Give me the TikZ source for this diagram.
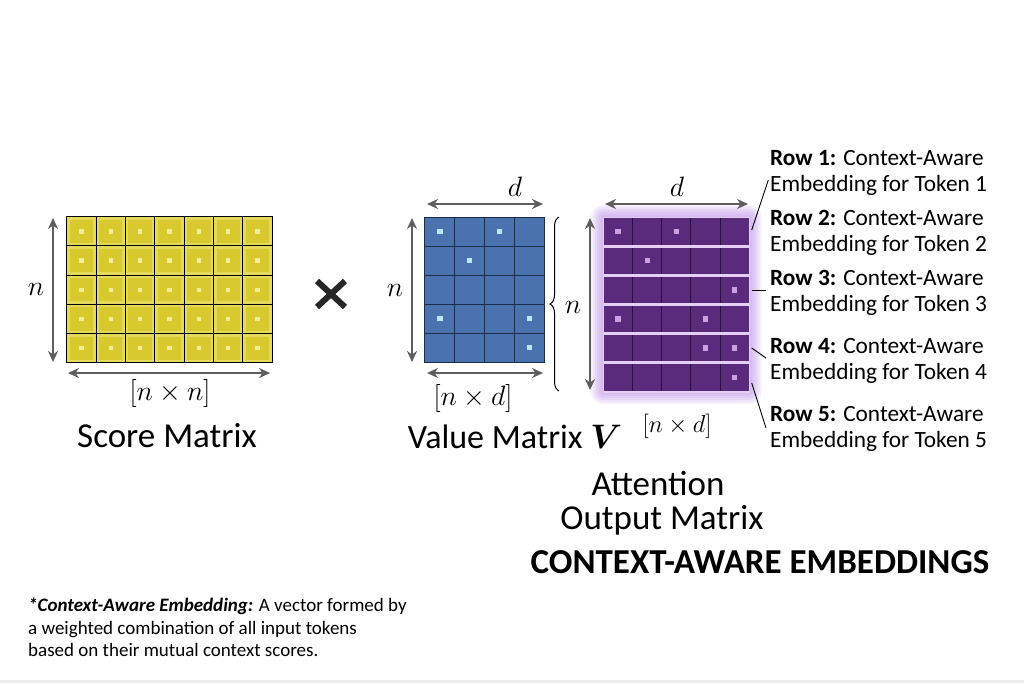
\RequirePackage{fix-cm}
\documentclass[tikz,border=0pt]{standalone}
\usepackage{fontspec}
\usepackage{bm}
\setmainfont{Carlito}
\usetikzlibrary{arrows.meta,decorations.pathreplacing,calc}
\definecolor{yelout}{HTML}{E4D95A}
\definecolor{yelin}{HTML}{D7C92E}
\definecolor{yeldot}{HTML}{F3EC98}
\definecolor{bluefill}{HTML}{4A72AE}
\definecolor{bluedot}{HTML}{BDE6F8}
\definecolor{bluegrid}{HTML}{1C2C4C}
\definecolor{purfill}{HTML}{5A2A7D}
\definecolor{purdot}{HTML}{C9A0E0}
\definecolor{purgap}{HTML}{E6CFF4}
\definecolor{purgrid}{HTML}{2A1040}
\definecolor{purglow}{HTML}{B57BE6}
\definecolor{arrowgray}{HTML}{5E5E5E}
\tikzset{
  dimarrow/.style={draw=arrowgray,line width=1.8pt,{Stealth[length=11pt,width=10pt]}-{Stealth[length=11pt,width=10pt]}},
  leader/.style={draw=black,line width=0.9pt},
  mlabel/.style={inner sep=0pt,font=\fontsize{28}{32}\selectfont},
  title/.style={inner sep=0pt,font=\fontsize{35}{40}\selectfont},
  rowlabel/.style={anchor=west,inner sep=0pt,align=left,font=\fontsize{23.3}{26}\selectfont},
  matbox/.style={inner sep=0pt,draw=none}
}
\begin{document}
\begin{tikzpicture}[x=1pt,y=-1pt]
\useasboundingbox (0,0) rectangle (1024,683);
\fill[white] (0,0) rectangle (1024,683);
\fill[black!7] (0,680) rectangle (1024,683);

% ---------- Score matrix ----------
\node[matbox,minimum width=205.6pt,minimum height=146pt] (S) at (169.5,289.7) {};
\foreach \c in {0,...,6}{
  \foreach \r in {0,...,4}{
    \pgfmathsetmacro{\xa}{66.7+29.37*\c}
    \pgfmathsetmacro{\ya}{216.7+29.2*\r}
    \fill[yelout] (\xa,\ya) rectangle ++(29.37,29.2);
    \fill[yelin] (\xa+3,\ya+3) rectangle ++(23.37,23.2);
    \fill[yeldot] (\xa+14.68-2.2,\ya+14.6-2.2) rectangle ++(4.4,4.4);
  }
}
\foreach \k in {1,...,6}{
  \draw[black,line width=1.1pt] (66.7+29.37*\k,216.7) -- (66.7+29.37*\k,362.7);
}
\foreach \k in {1,...,4}{
  \draw[black,line width=1.1pt] (66.7,216.7+29.2*\k) -- (272.3,216.7+29.2*\k);
}
\draw[black,line width=1.1pt] (S.north west) rectangle (S.south east);
\coordinate (Sn1) at (53,218); \coordinate (Sn2) at (53,362);
\draw[dimarrow] (Sn1) -- (Sn2);
\node[mlabel] (Snl) at (36,289) {$n$};
\coordinate (Sw1) at (68,373); \coordinate (Sw2) at (270,373);
\draw[dimarrow] (Sw1) -- (Sw2);
\node[mlabel] (Sdim) at (170,393) {$[n\times n]$};
\node[title] (Stitle) at (167,436) {Score Matrix};

% ---------- times ----------
\node[inner sep=0pt,minimum size=30pt] (times) at (331,294) {};
\draw[line width=6pt,color=black!85] ($(times.center)+(-14,-13)$) -- ($(times.center)+(14,13)$);
\draw[line width=6pt,color=black!85] ($(times.center)+(14,-13)$) -- ($(times.center)+(-14,13)$);

% ---------- Value matrix ----------
\node[matbox,minimum width=119.3pt,minimum height=145pt] (V) at (484.65,289.8) {};
\fill[bluefill] (V.north west) rectangle (V.south east);
\foreach \k in {1,...,3}{
  \draw[bluegrid,line width=1pt] (425+29.825*\k,217.3) -- (425+29.825*\k,362.3);
}
\foreach \k in {1,...,4}{
  \draw[bluegrid,line width=1pt] (425,217.3+29*\k) -- (544.3,217.3+29*\k);
}
\draw[bluegrid,line width=1pt] (V.north west) rectangle (V.south east);
\foreach \c/\r in {0/0,2/0,1/1,0/3,3/3,3/4}{
  \fill[bluedot] (425+29.825*\c+14.9-2.6,217.3+29*\r+14.5-2.6) rectangle ++(5.2,5.2);
}
\coordinate (Vd1) at (427,204); \coordinate (Vd2) at (543,204);
\draw[dimarrow] (Vd1) -- (Vd2);
\node[mlabel] (Vdl) at (515,187) {$d$};
\coordinate (Vn1) at (412,218); \coordinate (Vn2) at (412,362);
\draw[dimarrow] (Vn1) -- (Vn2);
\node[mlabel] (Vnl) at (395,290) {$n$};
\coordinate (Vw1) at (427,373); \coordinate (Vw2) at (543,373);
\draw[dimarrow] (Vw1) -- (Vw2);
\node[mlabel] (Vdim) at (473,398) {$[n\times d]$};
\node[inner sep=0pt,font=\fontsize{34}{40}\selectfont] (Vtitle) at (515,437) {Value Matrix $\bm{V}$};

% ---------- brace ----------
\coordinate (B1) at (559,391); \coordinate (B2) at (559,217);
\draw[black,line width=1pt,decorate,decoration={brace,amplitude=9pt}] (B1) -- (B2);
\node[mlabel] (Bn) at (573,307) {$n$};

% ---------- Output matrix ----------
\node[matbox,minimum width=146pt,minimum height=174.4pt] (O) at (676.3,304.5) {};
\foreach \g in {12,10,8,6,4,2}{
  \fill[purglow,opacity=0.11,rounded corners=\g pt] ($(O.north west)+(-\g,-\g)$) rectangle ($(O.south east)+(\g,\g)$);
}
\fill[purfill] (O.north west) rectangle (O.south east);
\foreach \k in {1,...,4}{
  \draw[purgrid,line width=0.9pt] (603.3+29.2*\k,217.3) -- (603.3+29.2*\k,391.7);
}
\foreach \k in {1,...,5}{
  \draw[purgap,line width=2.6pt] (603.3,217.3+29.07*\k) -- (749.3,217.3+29.07*\k);
}
\draw[purgap,line width=1.2pt] (O.north west) rectangle (O.south east);
\foreach \c/\r in {0/0,2/0,1/1,4/2,0/3,3/3,3/4,4/4,4/5}{
  \fill[purdot] (603.3+29.2*\c+14.6-2.6,217.3+29.07*\r+14.5-2.6) rectangle ++(5.2,5.2);
}
\coordinate (Od1) at (605,204); \coordinate (Od2) at (748,204);
\draw[dimarrow] (Od1) -- (Od2);
\node[mlabel] (Odl) at (677,187) {$d$};
\coordinate (On1) at (590,218); \coordinate (On2) at (590,390);
\draw[dimarrow] (On1) -- (On2);
\node[inner sep=0pt,font=\fontsize{24.5}{28}\selectfont] (Odim) at (677,426) {$[n\times d]$};

% ---------- row labels ----------
\node[rowlabel] (R1) at (770,173.3) {\textbf{Row 1:} Context-Aware\\Embedding for Token 1};
\node[rowlabel] (R2) at (770,232.5) {\textbf{Row 2:} Context-Aware\\Embedding for Token 2};
\node[rowlabel] (R3) at (770,292.5) {\textbf{Row 3:} Context-Aware\\Embedding for Token 3};
\node[rowlabel] (R4) at (770,360.5) {\textbf{Row 4:} Context-Aware\\Embedding for Token 4};
\node[rowlabel] (R5) at (770,429.2) {\textbf{Row 5:} Context-Aware\\Embedding for Token 5};
\coordinate (L1a) at (751.7,230); \coordinate (L1b) at (768.3,180);
\coordinate (L3a) at (751.7,290); \coordinate (L3b) at (766,290);
\coordinate (L4a) at (751.7,348); \coordinate (L4b) at (766,358);
\coordinate (L5a) at (751.7,383); \coordinate (L5b) at (766,428);
\draw[leader] (L1a) -- (L1b);
\draw[leader] (L3a) -- (L3b);
\draw[leader] (L4a) -- (L4b);
\draw[leader] (L5a) -- (L5b);

% ---------- bottom titles ----------
\node[title] (At1) at (658,484) {Attention};
\node[title] (At2) at (662,520) {Output Matrix};
\node[inner sep=0pt,font=\fontsize{35}{40}\selectfont\bfseries] (CAE) at (760,562) {CONTEXT-AWARE EMBEDDINGS};

% ---------- footnote ----------
\node[anchor=north west,inner sep=0pt,align=left,font=\fontsize{19}{22.3}\selectfont] (foot) at (28,598)
 {\textbf{\textit{*Context-Aware Embedding:}} A vector formed by\\a weighted combination of all input tokens\\based on their mutual context scores.};
\end{tikzpicture}
\end{document}
